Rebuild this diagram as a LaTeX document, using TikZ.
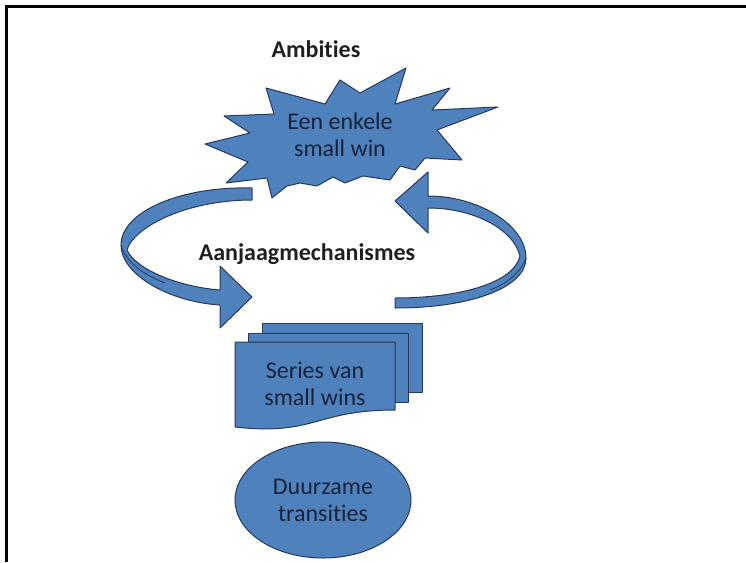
\documentclass[tikz,border=0pt]{standalone}
\usepackage{fontspec}
\setmainfont{Carlito}[Ligatures={NoCommon}]
\usetikzlibrary{shapes.geometric}
\definecolor{fillblue}{RGB}{79,129,189}
\definecolor{edgeblue}{RGB}{40,58,92}
\definecolor{txtnavy}{RGB}{22,34,58}
\begin{document}
\begin{tikzpicture}[x=1pt,y=-1pt,
  shapefill/.style={fill=fillblue,draw=edgeblue,line width=1pt,line join=round},
  lbl/.style={font=\fontsize{24}{27}\selectfont,text=txtnavy,align=center,inner sep=0pt},
  blbl/.style={font=\bfseries\fontsize{24}{27}\selectfont,text=black!88,inner sep=0pt}]
\useasboundingbox (0,0) rectangle (746,562);
\fill[white] (0,0) rectangle (746,562);
\draw[line width=2.5pt] (6.5,562) -- (6.5,6.5) -- (746,6.5);
% star burst
\draw[shapefill] (205,144) -- (250,133) -- (224,116) -- (274,114) -- (266,88) -- (325,104) -- (340,80) -- (360,93) -- (406,68) -- (395,104) -- (450,88) -- (432,110) -- (498,107) -- (437,130) -- (462,160) -- (425,158) -- (415,170) -- (400,166) -- (390,180) -- (363,176) -- (345,183) -- (333,177) -- (317,186) -- (300,183) -- (287,186) -- (272,198) -- (267,178) -- (226,183) -- (248,162) -- cycle;
\node[lbl] (win) at (340,135) {Een enkele\\small win};
\node[blbl,anchor=base] (amb) at (316,57) {Ambities};
% left curved arrow
\draw[shapefill] (252,188) .. controls (180,186) and (121,212) .. (121,245) .. controls (121,275) and (170,302) .. (220,305) -- (220,328) -- (252,297) -- (220,266) -- (220,290) .. controls (180,287) and (136,270) .. (127,250) .. controls (133,228) and (185,200) .. (252,200) -- cycle;
\draw[edgeblue,line width=0.8pt] (121,245) .. controls (126,262) and (142,274) .. (165,283);
% right curved arrow
\draw[shapefill] (395,308) .. controls (470,308) and (526,288) .. (526,258) .. controls (526,225) and (478,196) .. (428,196) -- (428,172) -- (395,201) -- (428,233) -- (428,208) .. controls (472,208) and (513,228) .. (520,256) .. controls (514,283) and (460,298) .. (395,298) -- cycle;
\draw[edgeblue,line width=0.8pt] (526,258) .. controls (521,272) and (508,283) .. (490,290);
\node[blbl,anchor=base] (mech) at (307,260) {Aanjaagmechanismes};
% multidocument
\draw[shapefill] (262,323) rectangle (422,392);
\draw[shapefill] (248,333) rectangle (408,402);
\draw[shapefill] (235,342) -- (395,342) -- (395,410) .. controls (315,410) and (315,436) .. (235,427) -- cycle;
\node[lbl] (series) at (315,384) {Series van\\small wins};
% ellipse
\node[shapefill,ellipse,minimum width=176pt,minimum height=116pt,lbl] (duur) at (323,500) {Duurzame\\transities};
\end{tikzpicture}
\end{document}
